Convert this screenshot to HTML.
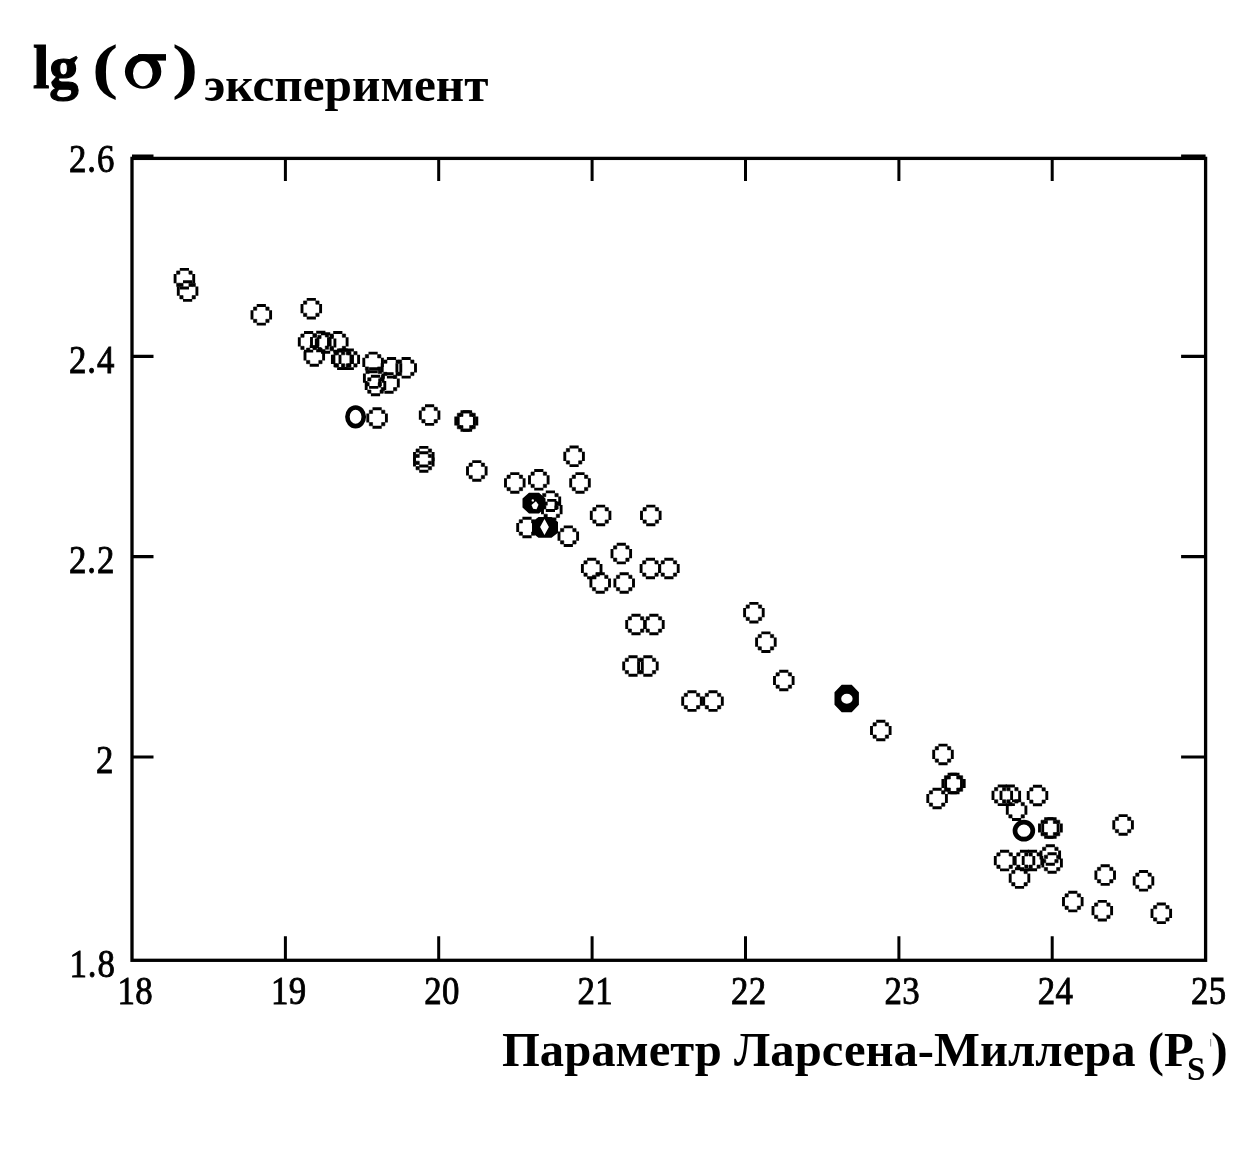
<!DOCTYPE html>
<html><head><meta charset="utf-8"><title>chart</title>
<style>
html,body{margin:0;padding:0;background:#fff;}
body{width:1253px;height:1149px;overflow:hidden;font-family:"Liberation Serif",serif;}
svg{display:block;position:absolute;left:0;top:0;will-change:transform;}
.tl{font-family:"Liberation Serif",serif;font-size:40px;fill:#000;stroke:#000;stroke-width:0.9px;letter-spacing:1.1px;}
.xl{letter-spacing:0.4px;}
.b{font-family:"Liberation Serif",serif;font-weight:bold;fill:#000;}
</style></head><body>
<svg width="1253" height="1149" viewBox="0 0 1253 1149">
<rect x="0" y="0" width="1253" height="1149" fill="#fff"/>
<defs><filter id="bl" x="-2%" y="-2%" width="104%" height="104%"><feGaussianBlur stdDeviation="0.65"/></filter><g id="c"><path d="M-4.6,-9.3H4.6M-4.6,9.3H4.6M-9.3,-4.6V4.6M9.3,-4.6V4.6" fill="none" stroke="#000" stroke-width="2.9"/><path d="M-7.8,-7.8h3.3v3.3h-3.3zM4.5,-7.8h3.3v3.3h-3.3zM-7.8,4.5h3.3v3.3h-3.3zM4.5,4.5h3.3v3.3h-3.3z" fill="#000" stroke="#000" stroke-width="0.6" stroke-linejoin="round"/></g></defs>
<g filter="url(#bl)">

<rect x="132.0" y="158.4" width="1073.6" height="801.9" fill="none" stroke="#000" stroke-width="3.3"/>
<path d="M285.4,158.4v22.5M285.4,960.3v-24M438.7,158.4v22.5M438.7,960.3v-24M592.1,158.4v22.5M592.1,960.3v-24M745.5,158.4v22.5M745.5,960.3v-24M898.9,158.4v22.5M898.9,960.3v-24M1052.2,158.4v22.5M1052.2,960.3v-24" stroke="#000" stroke-width="3" fill="none"/>
<path d="M132.0,156.0h21.5M1205.6,156.0h-24.5M132.0,356.4h21.5M1205.6,356.4h-24.5M132.0,556.7h21.5M1205.6,556.7h-24.5M132.0,757.0h21.5M1205.6,757.0h-24.5" stroke="#000" stroke-width="3.2" fill="none"/>
<g>
<use href="#c" x="184.4" y="278.7"/>
<use href="#c" x="187.6" y="291.1"/>
<use href="#c" x="261.3" y="314.8"/>
<use href="#c" x="311.3" y="308.7"/>
<use href="#c" x="308.6" y="341.8"/>
<use href="#c" x="320.8" y="341.5"/>
<use href="#c" x="325.6" y="343"/>
<use href="#c" x="337.8" y="341.8"/>
<use href="#c" x="314.3" y="355.9"/>
<use href="#c" x="341.7" y="359.3"/>
<use href="#c" x="343.2" y="359.3"/>
<use href="#c" x="349.3" y="359.3"/>
<use href="#c" x="373.1" y="362.4"/>
<use href="#c" x="373.7" y="378.1"/>
<use href="#c" x="375.5" y="385.5"/>
<use href="#c" x="389" y="383"/>
<use href="#c" x="391.5" y="367.8"/>
<use href="#c" x="406.2" y="367.8"/>
<use href="#c" x="377.1" y="418"/>
<use href="#c" x="429.6" y="415.1"/>
<use href="#c" x="465.1" y="421"/>
<use href="#c" x="467.5" y="421"/>
<use href="#c" x="423.8" y="456.7"/>
<use href="#c" x="423.8" y="462"/>
<use href="#c" x="476.8" y="470.9"/>
<use href="#c" x="514.8" y="482.9"/>
<use href="#c" x="538.8" y="479.8"/>
<use href="#c" x="574.1" y="456.3"/>
<use href="#c" x="580" y="482.9"/>
<use href="#c" x="550.4" y="501.2"/>
<use href="#c" x="551.8" y="509.7"/>
<use href="#c" x="527" y="527.5"/>
<use href="#c" x="568.3" y="536.2"/>
<use href="#c" x="600.6" y="515.4"/>
<use href="#c" x="650.8" y="515.4"/>
<use href="#c" x="621.3" y="553.6"/>
<use href="#c" x="591.7" y="568.5"/>
<use href="#c" x="600.2" y="583"/>
<use href="#c" x="624.2" y="583"/>
<use href="#c" x="650.4" y="568.5"/>
<use href="#c" x="668.9" y="568.5"/>
<use href="#c" x="636" y="624.5"/>
<use href="#c" x="653.9" y="624.5"/>
<use href="#c" x="633" y="666"/>
<use href="#c" x="647.9" y="666"/>
<use href="#c" x="692" y="701.1"/>
<use href="#c" x="713" y="701.1"/>
<use href="#c" x="753.9" y="612.7"/>
<use href="#c" x="765.9" y="642.2"/>
<use href="#c" x="783.8" y="680.5"/>
<use href="#c" x="880.8" y="730.5"/>
<use href="#c" x="943" y="754.4"/>
<use href="#c" x="952.2" y="783.5"/>
<use href="#c" x="954.9" y="783.5"/>
<use href="#c" x="937.1" y="798.5"/>
<use href="#c" x="1002.3" y="795.3"/>
<use href="#c" x="1010.3" y="795.3"/>
<use href="#c" x="1037.5" y="795.5"/>
<use href="#c" x="1016.6" y="810.2"/>
<use href="#c" x="1048.8" y="828"/>
<use href="#c" x="1052" y="828"/>
<use href="#c" x="1004.6" y="860.6"/>
<use href="#c" x="1024.5" y="860.6"/>
<use href="#c" x="1032.5" y="860.5"/>
<use href="#c" x="1050.3" y="855"/>
<use href="#c" x="1052.1" y="863"/>
<use href="#c" x="1019.5" y="878.1"/>
<use href="#c" x="1123.1" y="824.9"/>
<use href="#c" x="1105.2" y="875.1"/>
<use href="#c" x="1143.5" y="880.8"/>
<use href="#c" x="1072.8" y="901.6"/>
<use href="#c" x="1102.3" y="910.7"/>
<use href="#c" x="1161.3" y="913.3"/>
<path fill-rule="evenodd" fill="#000" d="M841.7,684.7h10l7.2,7.5v12.5l-7.2,7.5h-10l-7.2,-7.5v-12.5zM841.2,698.7a5.7,5 0 1,0 11.4,0a5.7,5 0 1,0 -11.4,0z"/>
<ellipse cx="355.6" cy="416.8" rx="8.2" ry="9.3" fill="none" stroke="#000" stroke-width="4.6"/>
<ellipse cx="1023.9" cy="830.7" rx="8.9" ry="8.5" fill="none" stroke="#000" stroke-width="4.7"/>
<path fill-rule="evenodd" fill="#000" d="M529,492.8h10l6.5,5.8v9l-6.5,5.8h-10l-6.5,-5.8v-9zM535.9,501.2l2.6,3.5l-2,4.6l-3.4,-0.6l-1.6,-3.6zM531.6,500.4a1.2,1.2 0 1,0 2.4,0a1.2,1.2 0 1,0 -2.4,0z"/>
<rect x="554.6" y="501" width="2.8" height="9" fill="#000"/>
<path fill-rule="evenodd" fill="#000" d="M538.5,517h13l6.5,5v10.8l-6.5,5h-13l-6.5,-5v-10.8zM544.5,519l4.4,8l-4.4,8l-4.4,-8z"/>
</g>
<text class="tl" transform="translate(69,172) scale(0.87,1)">2.6</text>
<text class="tl" transform="translate(69,372.6) scale(0.87,1)">2.4</text>
<text class="tl" transform="translate(69,572.6) scale(0.87,1)">2.2</text>
<text class="tl" transform="translate(96,773) scale(0.87,1)">2</text>
<text class="tl" transform="translate(69.5,976.8) scale(0.87,1)">1.8</text>
<text class="tl xl" transform="translate(117.5,1003.7) scale(0.87,1)">18</text>
<text class="tl xl" transform="translate(270.9,1003.7) scale(0.87,1)">19</text>
<text class="tl xl" transform="translate(424.2,1003.7) scale(0.87,1)">20</text>
<text class="tl xl" transform="translate(577.6,1003.7) scale(0.87,1)">21</text>
<text class="tl xl" transform="translate(731.0,1003.7) scale(0.87,1)">22</text>
<text class="tl xl" transform="translate(884.4,1003.7) scale(0.87,1)">23</text>
<text class="tl xl" transform="translate(1037.7,1003.7) scale(0.87,1)">24</text>
<text class="tl xl" transform="translate(1191.1,1003.7) scale(0.87,1)">25</text>
</g>
<text class="b" font-size="62" stroke="#000" stroke-width="1.2" transform="translate(33,87.5) scale(0.95,1)">lg</text>
<text class="b" font-size="62" transform="translate(92,87) scale(1.27,1)">(</text>
<path fill-rule="evenodd" fill="#000" d="M124.9,71.5a18.2,17.3 0 1,0 36.4,0a18.2,17.3 0 1,0 -36.4,0ZM133,73.6a9.8,12.6 0 1,0 19.6,0a9.8,12.6 0 1,0 -19.6,0Z"/>
<rect x="138" y="54.1" width="28" height="6.5" fill="#000"/>
<text class="b" font-size="62" transform="translate(172,87) scale(1.27,1)">)</text>
<text class="b" font-size="48" transform="translate(204,101.1) scale(1.027,1)">эксперимент</text>
<text class="b" font-size="48" transform="translate(502,1066) scale(1.014,1)">Параметр Ларсена-Миллера (P</text>
<text class="b" font-size="33" transform="translate(1187,1080)">S</text>
<rect x="1210" y="1039" width="1.2" height="7.5" fill="#999"/>
<text class="b" font-size="48" transform="translate(1211,1066) scale(1.05,1)">)</text>
</svg></body></html>
